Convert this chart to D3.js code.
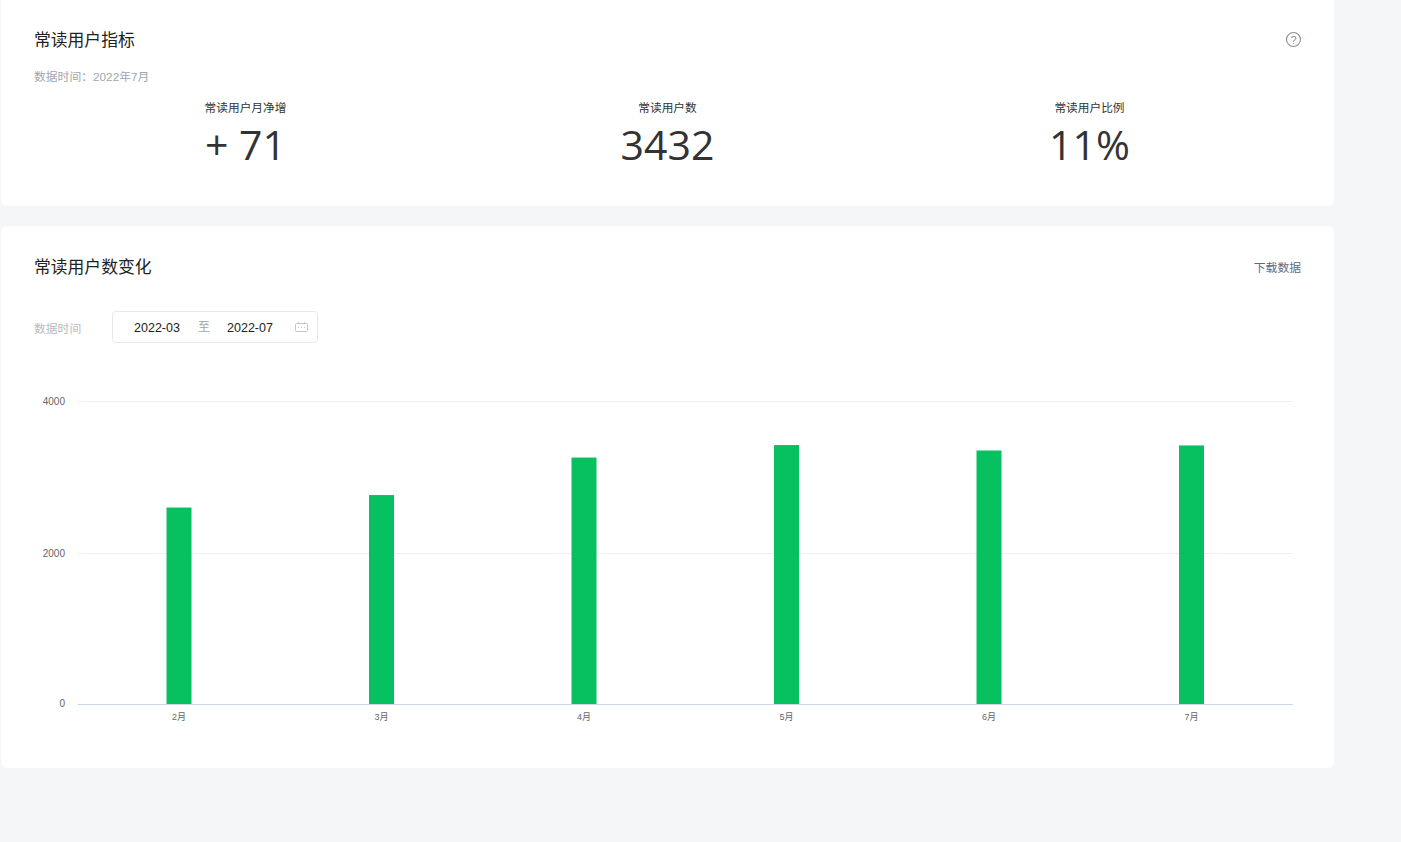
<!DOCTYPE html>
<html>
<head>
<meta charset="utf-8">
<script src="https://cdn.jsdelivr.net/npm/d3@7"></script>
<style>
html, body { margin: 0; padding: 0; background: #f5f6f8; overflow: hidden; }
svg { display: block; font-family: "Liberation Sans", "Noto Sans CJK SC", sans-serif; }
</style>
</head>
<body>
<div id="chart"></div>
<script>
const months = ["2月", "3月", "4月", "5月", "6月", "7月"];
const readers = [2600, 2765, 3260, 3425, 3353, 3420];
const yTicks = [0, 2000, 4000];

const statLabels = ["常读用户月净增", "常读用户数", "常读用户比例"];
const statValues = ["+ 71", "3432", "11%"];

const width = 1401;
const height = 842;

const svg = d3.select("#chart").append("svg")
    .attr("width", width)
    .attr("height", height)
    .attr("viewBox", [0, 0, width, height]);

// Page cards
svg.append("rect").attr("x", 1).attr("y", -10).attr("width", 1333).attr("height", 216).attr("rx", 6).attr("fill", "#fff");
svg.append("rect").attr("x", 1).attr("y", 226).attr("width", 1333).attr("height", 542).attr("rx", 6).attr("fill", "#fff");

function label(x, y, text, size, color, anchor) {
    return svg.append("text")
        .attr("x", x)
        .attr("y", y)
        .attr("font-size", size)
        .attr("fill", color)
        .attr("text-anchor", anchor || "start")
        .text(text);
}

// First card: headline numbers
label(34, 46, "常读用户指标", 16.8, "#222");
label(34, 81, "数据时间：2022年7月", 11.8, "#a3a6ab");

const statX = [245.5, 667.5, 1089.5];
statLabels.forEach((d, i) => {
    label(statX[i], 112, d, 11.7, "#333", "middle");
    label(statX[i], 160, statValues[i], 41, "#333", "middle")
        .attr("font-family", '"Open Sans", sans-serif');
});

// Help icon
svg.append("circle").attr("cx", 1293.5).attr("cy", 39.5).attr("r", 7)
    .attr("fill", "none").attr("stroke", "#8a8d91").attr("stroke-width", 1.1);
label(1293.5, 43.5, "?", 11, "#8a8d91", "middle");

// Second card: header and date picker
label(34, 273, "常读用户数变化", 16.8, "#222");
label(1301, 272, "下载数据", 11.8, "#5e6a85", "end");
label(34, 333, "数据时间", 11.8, "#b9bbbe");

svg.append("rect").attr("x", 112.5).attr("y", 311.5).attr("width", 205).attr("height", 31).attr("rx", 3)
    .attr("fill", "#fff").attr("stroke", "#e6e8ea");
label(157, 332, "2022-03", 12.5, "#222", "middle");
label(204, 331, "至", 12, "#a3a6ab", "middle");
label(250, 332, "2022-07", 12.5, "#222", "middle");

// Calendar icon
const cal = svg.append("g").attr("fill", "none").attr("stroke", "#c4c6c9").attr("stroke-width", 1);
cal.append("rect").attr("x", 295.5).attr("y", 323.5).attr("width", 12).attr("height", 8).attr("rx", 1);
cal.append("path").attr("d", "M298.5 322v2M304.5 322v2M298 327.5h1M301 327.5h1M304 327.5h1");

// Bar chart
const x = d3.scaleBand()
    .domain(months)
    .range([77.75, 1292.75]);

const y = d3.scaleLinear()
    .domain([0, 4000])
    .range([704.5, 401.5]);

// Tick label baselines sit on whole pixels, not quite evenly spaced.
const yLabel = d3.scaleLinear()
    .domain([0, 2000, 4000])
    .range([707, 557, 405]);

const barWidth = 25;

svg.append("g")
    .selectAll("line")
    .data(yTicks.filter(d => d > 0))
    .join("line")
    .attr("x1", x.range()[0])
    .attr("x2", x.range()[1])
    .attr("y1", d => Math.floor(y(d)) + 0.5)
    .attr("y2", d => Math.floor(y(d)) + 0.5)
    .attr("stroke", "#eceef0");

svg.append("g")
    .selectAll("rect")
    .data(readers)
    .join("rect")
    .attr("x", (d, i) => x(months[i]) + x.bandwidth() / 2 - barWidth / 2)
    .attr("y", d => y(d))
    .attr("width", barWidth)
    .attr("height", d => y(0) - y(d))
    .attr("fill", "#07c160");

svg.append("line")
    .attr("x1", x.range()[0])
    .attr("x2", x.range()[1])
    .attr("y1", y(0))
    .attr("y2", y(0))
    .attr("stroke", "#ccd6eb");

svg.append("g")
    .selectAll("text")
    .data(yTicks)
    .join("text")
    .attr("x", 65)
    .attr("y", d => yLabel(d))
    .attr("text-anchor", "end")
    .attr("font-size", 10)
    .attr("fill", "#666")
    .text(d => d);

svg.append("g")
    .selectAll("text")
    .data(months)
    .join("text")
    .attr("x", d => x(d) + x.bandwidth() / 2)
    .attr("y", 720)
    .attr("text-anchor", "middle")
    .attr("font-size", 9)
    .attr("fill", "#666")
    .text(d => d);
</script>
</body>
</html>
